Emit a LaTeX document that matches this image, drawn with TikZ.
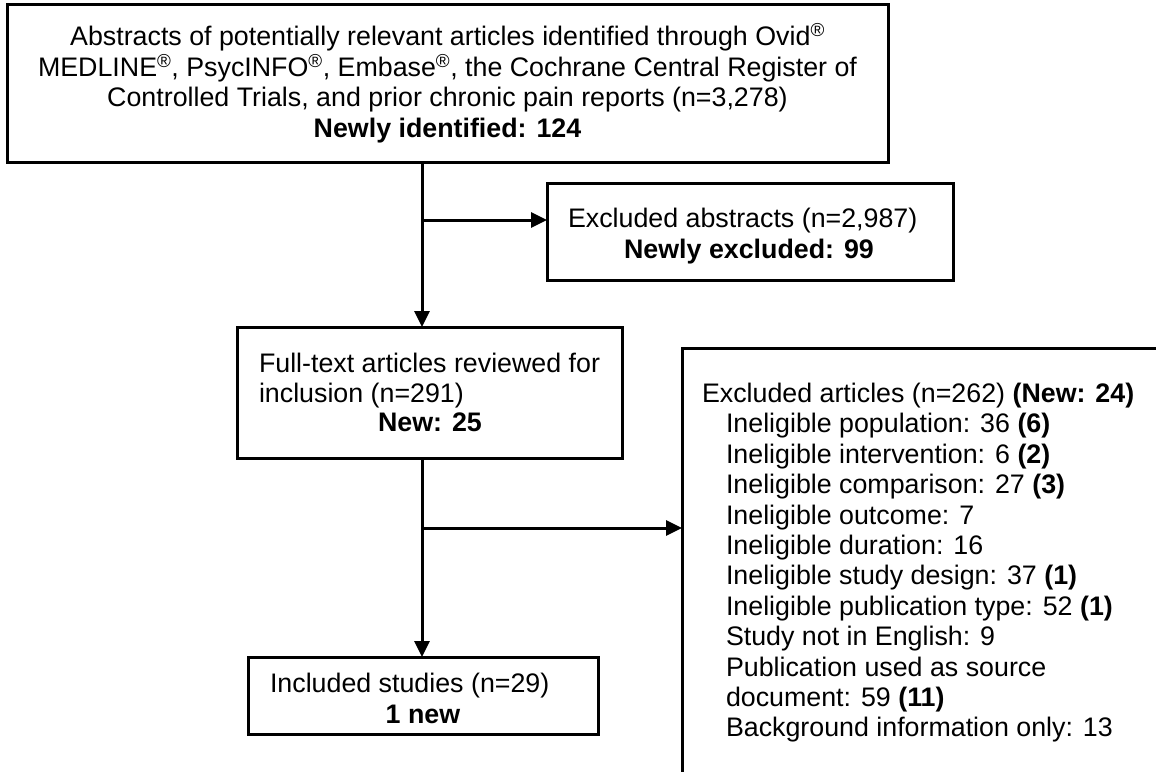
\documentclass[tikz,border=0pt]{standalone}
\usepackage{fontspec}
\setmainfont{Liberation Sans}
\usetikzlibrary{arrows.meta}
\begin{document}
\begin{tikzpicture}[x=1pt,y=-1pt,
  box/.style={draw, line width=3pt, inner sep=0pt, outer sep=0pt, anchor=north west},
  txt/.style={inner sep=0pt, outer sep=0pt, font=\fontsize{26.8}{30.5}\selectfont},
  conn/.style={line width=3pt, -{Triangle[length=16pt,width=15pt]}}]
\useasboundingbox[fill=white] (0,0) rectangle (1156,771);
% boxes
\node[box, minimum width=881pt, minimum height=158pt, align=center,
      font=\fontsize{26.8}{30.5}\selectfont] (top) at (7,4)
  {Abstracts of potentially relevant articles identified through Ovid\textsuperscript{®}\\
   MEDLINE\textsuperscript{®}, PsycINFO\textsuperscript{®}, Embase\textsuperscript{®}, the Cochrane Central Register of\\
   Controlled Trials, and prior chronic pain reports (n=3,278)\\
   \textbf{Newly identified: 124}};
\node[box, minimum width=406pt, minimum height=97pt] (exab) at (547,183) {};
\node[box, minimum width=385pt, minimum height=131pt] (full) at (237,327) {};
\node[box, minimum width=600pt, minimum height=600pt] (exart) at (682,348) {};
\node[box, minimum width=350pt, minimum height=77pt] (incl) at (248,657) {};
% texts
\node[txt, anchor=base west] (exab1) at (568,227) {Excluded abstracts (n=2,987)};
\node[txt, anchor=base] (exab2) at (749,258) {\textbf{Newly excluded: 99}};
\node[txt, anchor=base west] (full1) at (259,372) {Full-text articles reviewed for};
\node[txt, anchor=base west] (full2) at (259,402) {inclusion (n=291)};
\node[txt, anchor=base] (full3) at (430,431) {\textbf{New: 25}};
\node[txt, anchor=base west] (incl1) at (270,692) {Included studies (n=29)};
\node[txt, anchor=base] (incl2) at (423,723) {\textbf{1 new}};
\node[txt, anchor=north west, align=left, font=\fontsize{26.8}{30.4}\selectfont] (exarttxt) at (702,383)
  {Excluded articles (n=262) \textbf{(New: 24)}\\
   \hspace*{24pt}Ineligible population: 36 \textbf{(6)}\\
   \hspace*{24pt}Ineligible intervention: 6 \textbf{(2)}\\
   \hspace*{24pt}Ineligible comparison: 27 \textbf{(3)}\\
   \hspace*{24pt}Ineligible outcome: 7\\
   \hspace*{24pt}Ineligible duration: 16\\
   \hspace*{24pt}Ineligible study design: 37 \textbf{(1)}\\
   \hspace*{24pt}Ineligible publication type: 52 \textbf{(1)}\\
   \hspace*{24pt}Study not in English: 9\\
   \hspace*{24pt}Publication used as source\\
   \hspace*{24pt}document: 59 \textbf{(11)}\\
   \hspace*{24pt}Background information only: 13};
% connectors
\coordinate (t1) at (422,220);
\coordinate (t2) at (422,528);
\draw[conn] (top.south -| t1) -- (full.north -| t1);
\draw[conn] (t1) -- (exab.west |- t1);
\draw[conn] (full.south -| t2) -- (incl.north -| t2);
\draw[conn] (t2) -- (exart.west |- t2);
\end{tikzpicture}
\end{document}
